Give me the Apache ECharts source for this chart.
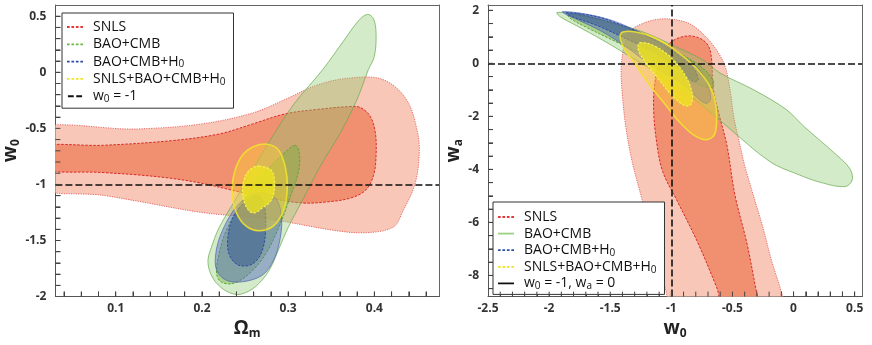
<!DOCTYPE html>
<html>
<head>
<meta charset="utf-8">
<script src="https://cdn.jsdelivr.net/npm/echarts@6/dist/echarts.min.js"></script>
<style>
  html, body { margin: 0; padding: 0; background: #fff; }
  #chart { width: 872px; height: 345px; }
</style>
</head>
<body>
<div id="chart"></div>
<script>
// left panel: (Omega_m, w0) contours, outer = 2 sigma, inner = 1 sigma
const snlsOuterL = [[0.0,-0.52],[0.126,-0.505],[0.2,-0.46],[0.26,-0.36],[0.297,-0.24],[0.335,-0.11],[0.373,-0.05],[0.41,-0.065],[0.437,-0.24],[0.45,-0.53],[0.452,-0.74],[0.447,-1.0],[0.433,-1.24],[0.422,-1.38],[0.39,-1.43],[0.354,-1.41],[0.278,-1.31],[0.2,-1.25],[0.126,-1.15],[0.088,-1.1],[0.0,-1.0]]
const snlsInnerL = [[0.0,-0.67],[0.088,-0.65],[0.164,-0.61],[0.22,-0.55],[0.259,-0.46],[0.297,-0.37],[0.335,-0.33],[0.373,-0.305],[0.384,-0.315],[0.395,-0.39],[0.401,-0.53],[0.402,-0.74],[0.399,-0.92],[0.39,-1.05],[0.373,-1.12],[0.346,-1.155],[0.316,-1.165],[0.278,-1.12],[0.24,-1.06],[0.2,-0.99],[0.164,-0.945],[0.126,-0.915],[0.088,-0.895],[0.0,-0.85]]
const baoOuterL = [[0.392,0.516],[0.399,0.478],[0.402,0.346],[0.4,0.141],[0.393,0.023],[0.38,-0.24],[0.361,-0.534],[0.338,-0.827],[0.316,-1.15],[0.3,-1.384],[0.29,-1.56],[0.278,-1.765],[0.262,-1.912],[0.245,-1.979],[0.232,-1.965],[0.219,-1.897],[0.21,-1.795],[0.207,-1.677],[0.211,-1.56],[0.22,-1.384],[0.24,-1.12],[0.262,-0.827],[0.285,-0.534],[0.308,-0.27],[0.34,0.023],[0.365,0.287],[0.382,0.463]]
const baoInnerL = [[0.308,-0.651],[0.313,-0.724],[0.312,-0.886],[0.302,-1.12],[0.289,-1.384],[0.274,-1.619],[0.255,-1.795],[0.236,-1.883],[0.222,-1.868],[0.217,-1.795],[0.219,-1.648],[0.228,-1.413],[0.247,-1.15],[0.27,-0.915],[0.293,-0.739]]
const h0OuterL = [[0.266,-1.076],[0.285,-1.12],[0.292,-1.267],[0.291,-1.472],[0.283,-1.677],[0.27,-1.809],[0.247,-1.868],[0.228,-1.853],[0.217,-1.765],[0.216,-1.619],[0.222,-1.443],[0.236,-1.238],[0.251,-1.12]]
const h0InnerL = [[0.264,-1.097],[0.272,-1.179],[0.274,-1.384],[0.27,-1.589],[0.259,-1.707],[0.243,-1.721],[0.232,-1.633],[0.23,-1.472],[0.236,-1.296],[0.249,-1.164]]
const allOuterL = [[0.276,-0.642],[0.289,-0.695],[0.297,-0.856],[0.299,-1.032],[0.295,-1.223],[0.283,-1.37],[0.266,-1.413],[0.251,-1.37],[0.24,-1.252],[0.235,-1.076],[0.238,-0.886],[0.247,-0.739],[0.261,-0.66]]
const allInnerL = [[0.266,-0.836],[0.28,-0.871],[0.284,-0.959],[0.283,-1.091],[0.278,-1.164],[0.27,-1.208],[0.262,-1.252],[0.255,-1.238],[0.249,-1.15],[0.247,-1.032],[0.251,-0.915],[0.258,-0.856]]

// right panel: (w0, wa) contours
const snlsOuterR = [[-1.33,1.24],[-1.23,1.51],[-1.11,1.66],[-0.99,1.66],[-0.85,1.49],[-0.73,1.06],[-0.63,0.5],[-0.56,-0.12],[-0.52,-0.99],[-0.49,-1.99],[-0.45,-2.85],[-0.40,-3.85],[-0.33,-4.96],[-0.25,-6.2],[-0.18,-7.44],[-0.095,-8.69],[-0.06,-9.43],[-1.01,-9.43],[-1.04,-8.69],[-1.11,-7.44],[-1.18,-6.2],[-1.25,-4.96],[-1.32,-3.72],[-1.37,-2.48],[-1.40,-1.24],[-1.41,-0.12],[-1.38,0.74]]
const snlsInnerR = [[-1.01,0.77],[-0.89,1.02],[-0.78,0.97],[-0.70,0.68],[-0.67,0.12],[-0.66,-0.87],[-0.62,-1.74],[-0.545,-3.1],[-0.48,-4.96],[-0.38,-6.82],[-0.30,-8.69],[-0.26,-9.43],[-0.55,-9.43],[-0.63,-8.44],[-0.79,-6.7],[-0.95,-5.21],[-1.07,-4.09],[-1.12,-2.98],[-1.145,-1.74],[-1.135,-0.74],[-1.095,0.12]]
const baoOuterR = [[-1.935,1.92],[-1.78,1.84],[-1.505,1.55],[-1.23,1.18],[-0.96,0.62],[-0.74,0.12],[-0.60,-0.37],[-0.33,-0.99],[-0.06,-1.74],[0.08,-2.36],[0.355,-3.47],[0.46,-3.97],[0.48,-4.4],[0.42,-4.65],[0.22,-4.49],[0.02,-4.16],[-0.19,-3.72],[-0.52,-2.48],[-0.74,-1.61],[-1.01,-0.68],[-1.29,0.12],[-1.56,0.87],[-1.78,1.43],[-1.91,1.76]]
const baoInnerR = [[-1.85,1.89],[-1.70,1.80],[-1.42,1.43],[-1.15,0.93],[-0.905,0.31],[-0.74,-0.19],[-0.66,-0.62],[-0.66,-0.89],[-0.73,-0.89],[-0.88,-0.56],[-1.15,0.12],[-1.42,0.74],[-1.70,1.37],[-1.83,1.71]]
const h0OuterR = [[-1.89,1.95],[-1.70,1.86],[-1.48,1.61],[-1.29,1.24],[-1.12,0.87],[-0.93,0.37],[-0.77,-0.25],[-0.70,-0.87],[-0.68,-1.37],[-0.72,-1.51],[-0.80,-1.24],[-0.93,-0.72],[-1.15,-0.12],[-1.37,0.62],[-1.56,1.18],[-1.75,1.61],[-1.86,1.84]]
const h0InnerR = [[-1.86,1.91],[-1.61,1.76],[-1.40,1.43],[-1.18,0.99],[-0.96,0.37],[-0.82,-0.19],[-0.78,-0.62],[-0.82,-0.68],[-0.96,-0.12],[-1.18,0.50],[-1.40,0.99],[-1.61,1.43],[-1.81,1.76]]
const allOuterR = [[-1.41,1.14],[-1.29,1.18],[-1.12,0.93],[-0.93,0.37],[-0.77,-0.31],[-0.66,-1.12],[-0.63,-1.92],[-0.645,-2.67],[-0.71,-2.88],[-0.81,-2.73],[-0.93,-2.23],[-1.04,-1.61],[-1.18,-0.81],[-1.31,0.06],[-1.40,0.68]]
const allInnerR = [[-1.26,0.77],[-1.15,0.68],[-1.01,0.25],[-0.89,-0.43],[-0.83,-1.12],[-0.84,-1.55],[-0.89,-1.59],[-0.99,-1.24],[-1.10,-0.62],[-1.205,0],[-1.27,0.5]]

// axis ranges and labels
const leftXRange = [0.03, 0.475]
const leftYRange = [-2, 0.6]
const rightXRange = [-2.5, 0.56]
const rightYRange = [-8.8, 2.2]
const leftXLabels = [0.1, 0.2, 0.3, 0.4]
const leftYLabels = [-2, -1.5, -1, -0.5, 0, 0.5]
const rightXLabels = [-2.5, -2, -1.5, -1, -0.5, 0, 0.5]
const rightYLabels = [-8, -6, -4, -2, 0, 2]
const leftRefW0 = -1
const rightRefW0 = -1
const rightRefWa = 0

function steps(from, to, step) {
  const out = []
  for (let v = from; v <= to + step / 2; v += step) out.push(Math.round(v * 1000) / 1000)
  return out
}

const leftXTicks = steps(0.04, 0.46, 0.02)
const leftYTicks = steps(-1.9, 0.5, 0.1)
const rightXTicks = steps(-2.4, 0.5, 0.1)
const rightYTicks = steps(-8.5, 2, 0.5)

const FONT = 'Open Sans'
const sty = {
  snlsOuter: { fill: '#f9c7b7', stroke: '#e04a4a', dash: [1.2, 1.2], width: 0.8 },
  snlsInner: { fill: '#f18f71', stroke: '#d62a2a', dash: [2.5, 1.5], width: 1 },
  baoOuter: { fill: 'rgba(140,202,110,0.38)', stroke: 'rgba(105,170,80,0.9)', dash: null, width: 0.8 },
  baoInner: { fill: 'rgba(115,175,60,0.42)', stroke: '#5aa838', dash: [2.5, 1.5], width: 1 },
  h0Outer: { fill: 'rgba(80,100,190,0.45)', stroke: 'rgba(70,90,170,0.8)', dash: null, width: 0.8 },
  h0Inner: { fill: 'rgba(45,75,145,0.45)', stroke: '#2a4aa8', dash: [2.5, 1.5], width: 1 },
  allOuter: { fill: 'rgba(250,210,50,0.42)', stroke: 'rgba(242,225,45,0.9)', dash: null, width: 1.6 },
  allInner: { fill: 'rgba(238,228,30,0.78)', stroke: '#f6f050', dash: [2.5, 1.5], width: 1.2 }
}

function contour(name, pts, st, gi) {
  return {
    name,
    type: 'custom',
    xAxisIndex: gi,
    yAxisIndex: gi,
    silent: true,
    data: pts,
    renderItem(params, api) {
      if (params.dataIndex !== 0) return null
      const cs = params.coordSys
      return {
        type: 'polygon',
        shape: { points: pts.map(p => api.coord(p)), smooth: 0.35 },
        style: { fill: st.fill, stroke: st.stroke, lineWidth: st.width, lineDash: st.dash },
        clipPath: { type: 'rect', shape: { x: cs.x, y: cs.y, width: cs.width, height: cs.height } }
      }
    }
  }
}

// inward ticks on the bottom and left edges, placed through the axis scales
function tickMarks(gi, xTicks, yTicks, xRange, yRange) {
  return {
    type: 'custom',
    xAxisIndex: gi,
    yAxisIndex: gi,
    silent: true,
    z: 5,
    data: [[xRange[0], yRange[0]]],
    renderItem(params, api) {
      const lines = []
      xTicks.forEach(v => {
        const p = api.coord([v, yRange[0]])
        lines.push({ type: 'line', shape: { x1: p[0], y1: p[1], x2: p[0], y2: p[1] - 5 }, style: { stroke: '#444', lineWidth: 1 } })
      })
      yTicks.forEach(v => {
        const p = api.coord([xRange[0], v])
        lines.push({ type: 'line', shape: { x1: p[0], y1: p[1], x2: p[0] + 5, y2: p[1] }, style: { stroke: '#444', lineWidth: 1 } })
      })
      return { type: 'group', children: lines }
    }
  }
}

const DASH = 'path://M0,0h3v2h-3zM5,0h3v2h-3zM10,0h3v2h-3zM15,0h3v2h-3z'
const SOLID = 'path://M0,0h18v2h-18z'
const LONGDASH = 'path://M0,0h7v2.4h-7zM10,0h7v2.4h-7z'

const richNames = {
  'BAO+CMB+H0': 'BAO+CMB+H{s|0}',
  'SNLS+BAO+CMB+H0': 'SNLS+BAO+CMB+H{s|0}',
  'w0 = -1': 'w{s|0} = -1',
  'w0 = -1, wa = 0': 'w{s|0} = -1, w{s|a} = 0'
}

function legend(left, top, pad, gap, items) {
  return {
    left, top,
    orient: 'vertical',
    selectedMode: false,
    backgroundColor: '#fff',
    borderColor: '#333',
    borderWidth: 1,
    padding: pad,
    itemGap: gap,
    itemWidth: 16,
    itemHeight: 2,
    data: items.map(([name, icon, color]) => ({ name, icon, itemStyle: { color } })),
    formatter: n => richNames[n] || n,
    textStyle: {
      fontFamily: FONT, fontSize: 14, color: '#111', lineHeight: 16, padding: [0, 0, 0, 5],
      rich: { s: { fontFamily: FONT, fontSize: 10, color: '#111', lineHeight: 11, verticalAlign: 'bottom' } }
    }
  }
}

function axisName(bold, sub) {
  return {
    name: '{b|' + bold + '}{s|' + sub + '}',
    nameLocation: 'middle',
    nameTextStyle: {
      rich: {
        b: { fontFamily: FONT, fontSize: 19, fontWeight: 'bold', color: '#222', lineHeight: 22 },
        s: { fontFamily: FONT, fontSize: 12, fontWeight: 'bold', color: '#222', lineHeight: 14, verticalAlign: 'bottom' }
      }
    }
  }
}

function valueAxis(gi, range, labels, ticks, extra) {
  return Object.assign({
    gridIndex: gi,
    type: 'value',
    min: range[0],
    max: range[1],
    axisLine: { show: true, onZero: false, lineStyle: { color: '#555', width: 1 } },
    splitLine: { show: false },
    axisTick: { show: true, inside: true, length: 5, customValues: ticks, lineStyle: { color: '#444', width: 1 } },
    axisLabel: { customValues: labels, fontFamily: FONT, fontSize: 12, fontWeight: 'bold', color: '#333' }
  }, extra)
}

// plain axis lines that close the frame on the top and right sides
function frameAxis(gi, range, position) {
  return {
    gridIndex: gi,
    type: 'value',
    position,
    min: range[0],
    max: range[1],
    axisLine: { show: true, onZero: false, lineStyle: { color: '#666', width: 1 } },
    axisTick: { show: false },
    axisLabel: { show: false },
    splitLine: { show: false }
  }
}

const refLine = (name, gi, lines) => ({
  name,
  type: 'line',
  xAxisIndex: gi,
  yAxisIndex: gi,
  data: [],
  markLine: {
    silent: true,
    symbol: 'none',
    label: { show: false },
    lineStyle: { color: '#111', width: 1.6, type: [7, 3] },
    data: lines
  }
})

const chart = echarts.init(document.getElementById('chart'), null, { renderer: 'canvas' })

const xL = valueAxis(0, leftXRange, leftXLabels, leftXTicks, axisName('Ω', 'm'))
xL.nameGap = 16
xL.axisLabel.margin = 6
const yL = valueAxis(0, leftYRange, leftYLabels, leftYTicks, axisName('w', '0'))
yL.nameGap = 28
yL.axisLabel.margin = 9
const xR = valueAxis(1, rightXRange, rightXLabels, rightXTicks, axisName('w', '0'))
xR.nameGap = 16
xR.axisLabel.margin = 6
const yR = valueAxis(1, rightYRange, rightYLabels, rightYTicks, axisName('w', 'a'))
yR.nameGap = 20
yR.axisLabel.margin = 9

chart.setOption({
  animation: false,
  grid: [
    { left: 48, top: 5, width: 391, height: 296 },
    { left: 488, top: 5, width: 374, height: 295 }
  ],
  xAxis: [xL, xR, frameAxis(0, leftXRange, 'top'), frameAxis(1, rightXRange, 'top')],
  yAxis: [yL, yR, frameAxis(0, leftYRange, 'right'), frameAxis(1, rightYRange, 'right')],
  legend: [
    legend(62, 13, [6, 8, 4, 5], 1.3, [
      ['SNLS', DASH, '#e23a3a'],
      ['BAO+CMB', DASH, '#6cb844'],
      ['BAO+CMB+H0', DASH, '#2f4da6'],
      ['SNLS+BAO+CMB+H0', DASH, '#f0e428'],
      ['w0 = -1', LONGDASH, '#111']
    ]),
    legend(493, 202, [7, 8, 3, 5], 0.6, [
      ['SNLS', DASH, '#e23a3a'],
      ['BAO+CMB', SOLID, '#9ccf80'],
      ['BAO+CMB+H0', DASH, '#2f4da6'],
      ['SNLS+BAO+CMB+H0', DASH, '#f0e428'],
      ['w0 = -1, wa = 0', SOLID, '#111']
    ])
  ],
  series: [
    contour('SNLS', snlsOuterL, sty.snlsOuter, 0),
    contour('SNLS', snlsInnerL, sty.snlsInner, 0),
    contour('BAO+CMB', baoOuterL, sty.baoOuter, 0),
    contour('BAO+CMB', baoInnerL, sty.baoInner, 0),
    contour('BAO+CMB+H0', h0OuterL, sty.h0Outer, 0),
    contour('BAO+CMB+H0', h0InnerL, sty.h0Inner, 0),
    contour('SNLS+BAO+CMB+H0', allOuterL, sty.allOuter, 0),
    contour('SNLS+BAO+CMB+H0', allInnerL, sty.allInner, 0),
    refLine('w0 = -1', 0, [{ yAxis: leftRefW0 }]),
    tickMarks(0, leftXTicks, leftYTicks, leftXRange, leftYRange),
    contour('SNLS', snlsOuterR, sty.snlsOuter, 1),
    contour('SNLS', snlsInnerR, sty.snlsInner, 1),
    contour('BAO+CMB', baoOuterR, sty.baoOuter, 1),
    contour('BAO+CMB', baoInnerR, sty.baoInner, 1),
    contour('BAO+CMB+H0', h0OuterR, sty.h0Outer, 1),
    contour('BAO+CMB+H0', h0InnerR, sty.h0Inner, 1),
    contour('SNLS+BAO+CMB+H0', allOuterR, sty.allOuter, 1),
    contour('SNLS+BAO+CMB+H0', allInnerR, sty.allInner, 1),
    refLine('w0 = -1, wa = 0', 1, [{ yAxis: rightRefWa }, { xAxis: rightRefW0 }]),
    tickMarks(1, rightXTicks, rightYTicks, rightXRange, rightYRange)
  ]
})
</script>
</body>
</html>
